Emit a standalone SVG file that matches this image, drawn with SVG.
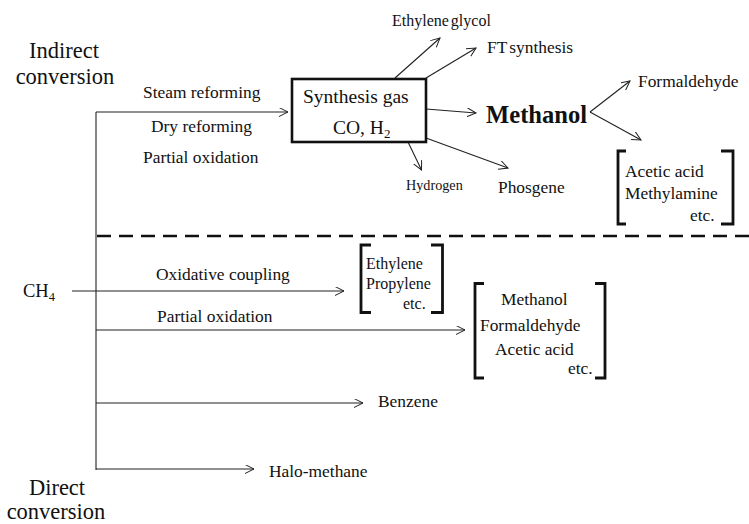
<svg xmlns="http://www.w3.org/2000/svg" width="749" height="524" viewBox="0 0 749 524">
<defs>
<marker id="arr" markerUnits="userSpaceOnUse" markerWidth="12" markerHeight="12" refX="9" refY="4.5" orient="auto">
<path d="M0,0 L9,4.5 L0,9" fill="none" stroke="#222" stroke-width="1"/>
</marker>
<style>
text{font-family:"Liberation Serif","Times New Roman",serif;fill:#111;font-size:17.4px}
.big{font-size:22.5px}
.sm{font-size:16px}
.xs{font-size:14.2px}
.syn{font-size:19.5px}
.bold{font-size:24.6px;font-weight:bold}
.ln{stroke:#222;stroke-width:1.1;fill:none}
.ar{marker-end:url(#arr)}
.br{stroke:#111;stroke-width:2.8;fill:none}
</style>
</defs>
<rect width="749" height="524" fill="#fff"/>
<g id="connectors">
<path class="ln" d="M96,112 V470"/>
<path class="ln ar" d="M96,112 H288"/>
<path class="ln ar" d="M72,291 H344"/>
<path class="ln ar" d="M96,330 H465"/>
<path class="ln ar" d="M96,403 H363"/>
<path class="ln ar" d="M96,469 H254"/>
<path class="ln ar" d="M395,78 L440,38"/>
<path class="ln ar" d="M426,78 L476,48"/>
<path class="ln ar" d="M426,109 L476,113"/>
<path class="ln ar" d="M408,142 L421.5,170"/>
<path class="ln ar" d="M426,138 L508,168"/>
<path class="ln ar" d="M590,112 L630,81"/>
<path class="ln ar" d="M590,112 L641,140"/>
<path d="M97,236 H749" stroke="#111" stroke-width="2.6" stroke-dasharray="14 8" fill="none"/>
</g>
<g id="label-indirect">
<text class="big" x="64" y="58" text-anchor="middle">Indirect</text>
<text class="big" x="65" y="84" text-anchor="middle">conversion</text>
</g>
<g id="label-direct">
<text class="big" x="57" y="495" text-anchor="middle">Direct</text>
<text class="big" x="56" y="519" text-anchor="middle">conversion</text>
</g>
<g id="ch4"><text x="23" y="297" style="font-size:18.5px">CH<tspan dy="4" style="font-size:12.5px">4</tspan></text></g>
<g id="route-labels-indirect">
<text x="143" y="98">Steam reforming</text>
<text x="151" y="132">Dry reforming</text>
<text x="143" y="163">Partial oxidation</text>
</g>
<g id="syngas">
<rect x="292" y="79" width="134" height="63" fill="none" stroke="#111" stroke-width="2.6"/>
<text class="syn" x="303" y="103">Synthesis gas</text>
<text class="syn" x="333" y="134">CO, H<tspan dy="4" style="font-size:13px">2</tspan></text>
</g>
<g id="ethylene-glycol"><text class="sm" x="392" y="26" style="word-spacing:-2px">Ethylene glycol</text></g>
<g id="ft-synthesis"><text x="487" y="53" style="word-spacing:-2px">FT synthesis</text></g>
<g id="methanol"><text class="bold" x="486" y="123">Methanol</text></g>
<g id="hydrogen"><text class="xs" x="406" y="190">Hydrogen</text></g>
<g id="phosgene"><text x="498" y="193">Phosgene</text></g>
<g id="formaldehyde-top"><text x="638" y="87">Formaldehyde</text></g>
<g id="acetic-group">
<path class="br" d="M626,151 H618 V224 H626"/>
<path class="br" d="M721,151 H733 V224 H721"/>
<text x="625" y="177">Acetic acid</text>
<text x="625" y="198.5">Methylamine</text>
<text x="690" y="221">etc.</text>
</g>
<g id="route-labels-direct">
<text x="156" y="280">Oxidative coupling</text>
<text x="157" y="322">Partial oxidation</text>
</g>
<g id="olefins">
<path class="br" d="M371,245 H361 V312.5 H371"/>
<path class="br" d="M431,245 H442.5 V312.5 H431"/>
<text class="sm" x="366" y="269">Ethylene</text>
<text class="sm" x="366" y="289">Propylene</text>
<text class="sm" x="403" y="309">etc.</text>
</g>
<g id="oxygenates">
<path class="br" d="M484,283.5 H475 V378 H484"/>
<path class="br" d="M595,283.5 H605 V378 H595"/>
<text x="501" y="305">Methanol</text>
<text x="480" y="331">Formaldehyde</text>
<text x="495" y="355">Acetic acid</text>
<text x="568" y="373.5">etc.</text>
</g>
<g id="benzene"><text x="378" y="407">Benzene</text></g>
<g id="halo-methane"><text x="269" y="477">Halo-methane</text></g>
</svg>
